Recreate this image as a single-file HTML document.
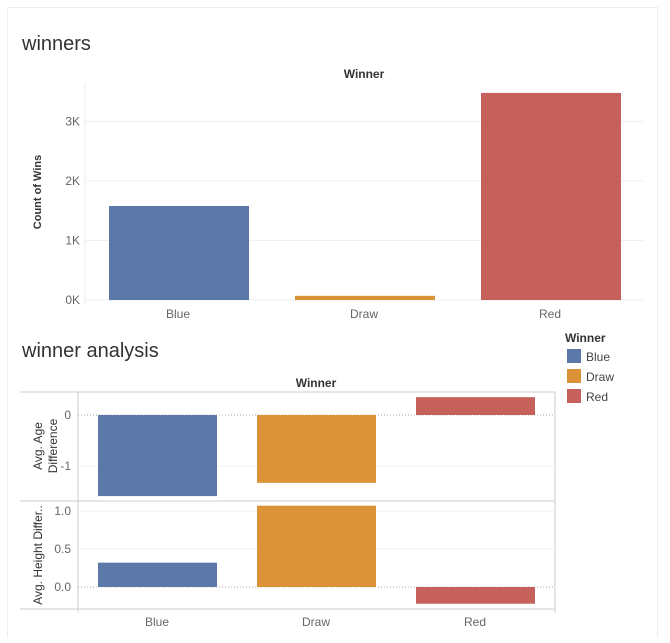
<!DOCTYPE html>
<html><head><meta charset="utf-8"><style>
body{margin:0;background:#fff;font-family:"Liberation Sans",sans-serif}
svg text{font-family:"Liberation Sans",sans-serif}
</style></head><body>
<svg id="c" width="670" height="638" xmlns="http://www.w3.org/2000/svg">
<rect x="7.5" y="7.5" width="650" height="640" fill="#fff" stroke="#eee"/>
<text x="22" y="50" font-size="20" fill="#333">winners</text>
<text x="364" y="78" font-size="12" font-weight="bold" fill="#333" text-anchor="middle">Winner</text>
<text transform="translate(41,192) rotate(-90)" font-size="11" font-weight="bold" fill="#333" text-anchor="middle">Count of Wins</text>
<text x="22" y="357" font-size="20" fill="#333">winner analysis</text>
<text x="316" y="387" font-size="12" font-weight="bold" fill="#333" text-anchor="middle">Winner</text>
<text transform="translate(42,446) rotate(-90)" font-size="12" fill="#333" text-anchor="middle"><tspan x="0" dy="0">Avg. Age</tspan><tspan x="0" dy="15">Difference</tspan></text>
<text transform="translate(42,555) rotate(-90)" font-size="12" fill="#333" text-anchor="middle">Avg. Height Differ..</text>
<g id="topchart"></g>
<g id="botchart"></g>
<g>
<text x="565" y="342" font-size="12" font-weight="bold" fill="#333">Winner</text>
<rect x="567" y="349" width="14" height="14" fill="#5b78a8"/>
<text x="586" y="361" font-size="12" fill="#444">Blue</text>
<rect x="567" y="369" width="14" height="14" fill="#dc9338"/>
<text x="586" y="381" font-size="12" fill="#444">Draw</text>
<rect x="567" y="389" width="14" height="14" fill="#c5605a"/>
<text x="586" y="401" font-size="12" fill="#444">Red</text>
</g>
</svg>
<script>
const categories=["Blue","Draw","Red"];
const wins=[1580,70,3480];
const winTicks=[0,1000,2000,3000];
const winTickLabels=["0K","1K","2K","3K"];
const ageDiff=[-1.59,-1.33,0.35];
const ageTicks=[0,-1];
const ageTickLabels=["0","-1"];
const heightDiff=[0.32,1.07,-0.22];
const heightTicks=[0,0.5,1.0];
const heightTickLabels=["0.0","0.5","1.0"];
const colors=["#5b78a8","#dc9338","#c5605a"];
const NS="http://www.w3.org/2000/svg";
function mk(p,t,a){const e=document.createElementNS(NS,t);for(const k in a)e.setAttribute(k,a[k]);p.appendChild(e);return e;}
const topG=document.getElementById('topchart');
const tx0=85,tcw=186,ty0=300,tpx=59.5/1000;
const ty=v=>ty0-v*tpx;
mk(topG,'line',{x1:tx0,y1:83,x2:tx0,y2:305,stroke:'#eee'});
winTicks.forEach((t,i)=>{
 const g=mk(topG,'line',{x1:tx0,y1:ty(t),x2:tx0+3*tcw,y2:ty(t),stroke:'#efefef'});
 
 
 const l=mk(topG,'text',{x:tx0-5,y:ty(t)+4,'font-size':12,fill:'#666','text-anchor':'end'});l.textContent=winTickLabels[i];
 
 
});
categories.forEach((c,i)=>{
 const v=wins[i];
 const b=mk(topG,'rect',{x:tx0+i*tcw+24,y:Math.min(ty(v),ty0),width:140,height:Math.abs(ty(v)-ty0),fill:colors[i]});
 
 
 const l=mk(topG,'text',{x:tx0+i*tcw+93,y:318,'font-size':12,fill:'#666','text-anchor':'middle'});l.textContent=c;
 
 
});
const botG=document.getElementById('botchart');
const bx0=78,bcw=159,bx1=555;
const ay=v=>415-v*51;
const hy=v=>587-v*76;
mk(botG,'line',{x1:20,y1:392,x2:bx1,y2:392,stroke:'#ccc'});
mk(botG,'line',{x1:20,y1:501,x2:bx1,y2:501,stroke:'#ccc'});
mk(botG,'line',{x1:20,y1:609,x2:bx1,y2:609,stroke:'#ccc'});
mk(botG,'line',{x1:bx0,y1:392,x2:bx0,y2:613,stroke:'#ccc'});
mk(botG,'line',{x1:bx1,y1:392,x2:bx1,y2:613,stroke:'#ccc'});
function ticks(arr,labels,f){arr.forEach((t,i)=>{
 const g=mk(botG,'line',{x1:bx0,y1:f(t),x2:bx1,y2:f(t),stroke:t===0?'#aaa':'#efefef','stroke-dasharray':t===0?'1,2':'none'});
 
 
 const l=mk(botG,'text',{x:bx0-7,y:f(t)+4,'font-size':12,fill:'#666','text-anchor':'end'});l.textContent=labels[i];
 
 
});}
ticks(ageTicks,ageTickLabels,ay);
ticks(heightTicks,heightTickLabels,hy);
categories.forEach((c,i)=>{
 const x=bx0+i*bcw+20;
 const a=mk(botG,'rect',{x:x,y:Math.min(ay(ageDiff[i]),ay(0)),width:119,height:Math.abs(ay(ageDiff[i])-ay(0)),fill:colors[i]});
 
 
 const h=mk(botG,'rect',{x:x,y:Math.min(hy(heightDiff[i]),hy(0)),width:119,height:Math.abs(hy(heightDiff[i])-hy(0)),fill:colors[i]});
 
 
 const l=mk(botG,'text',{x:bx0+i*bcw+79,y:626,'font-size':12,fill:'#666','text-anchor':'middle'});l.textContent=c;
 
 
});
</script>
</body></html>
